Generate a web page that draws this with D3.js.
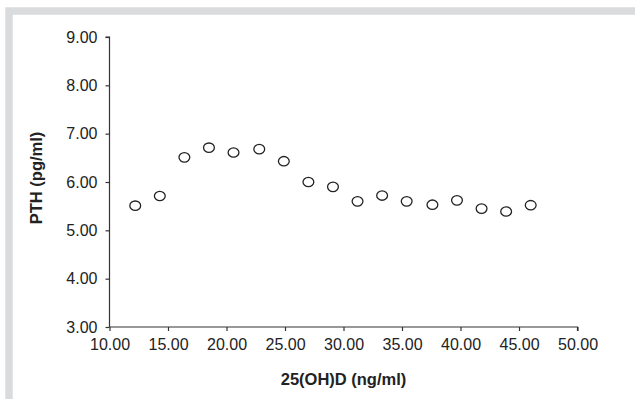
<!DOCTYPE html>
<html lang="en">
 <head>
 <meta charset="UTF-8">
        <title>PTH vs 25(OH)D</title>
        <script type="text/javascript" src="https://unpkg.com/d3@7/dist/d3.min.js"></script>
        <style>
          body { margin: 0; background: #fff; }
          text { font-family: "Liberation Sans", Arial, sans-serif; fill: #222; }
        </style>
 </head>

 <body>
        <script type="text/javascript">

          // values
          var vitD = [12.2, 14.3, 16.4, 18.5, 20.6, 22.8, 24.9, 27.0, 29.1, 31.2, 33.3, 35.4, 37.6, 39.7, 41.8, 43.9, 46.0];
          var pth  = [5.51, 5.71, 6.51, 6.71, 6.61, 6.68, 6.43, 6.00, 5.90, 5.60, 5.72, 5.60, 5.53, 5.62, 5.45, 5.39, 5.52];
          var xTicks = [10, 15, 20, 25, 30, 35, 40, 45, 50];
          var yTicks = [3, 4, 5, 6, 7, 8, 9];
          var xTitle = "25(OH)D (ng/ml)";
          var yTitle = "PTH (pg/ml)";

          var W = 635, H = 399;
          var svg = d3.select("body").append("svg")
                      .attr("width", W)
                      .attr("height", H);

          // grey frame round the plot
          svg.append("rect")
             .attr("x", 9).attr("y", 11)
             .attr("width", W).attr("height", H)
             .attr("fill", "none")
             .attr("stroke", "#dadbdd")
             .attr("stroke-width", 7.5);

          var x = d3.scaleLinear().domain([10, 50]).range([109.5, 577.5]);
          var y = d3.scaleLinear().domain([3, 9]).range([327, 37]);

          var g = svg.append("g");

          var xAxis = g.append("g")
             .attr("transform", "translate(0," + y(3) + ")")
             .call(d3.axisBottom(x).tickValues(xTicks).tickSize(4).tickPadding(8)
                   .tickFormat(d3.format(".2f")));

          var yAxis = g.append("g")
             .attr("transform", "translate(" + x(10) + ",0)")
             .call(d3.axisLeft(y).tickValues(yTicks).tickSize(4).tickPadding(8)
                   .tickFormat(d3.format(".2f")));

          [xAxis, yAxis].forEach(function(a) {
            a.attr("font-size", null).attr("font-family", null);
            a.select(".domain").attr("stroke", "#333").attr("stroke-width", 1.2);
            a.selectAll(".tick line").attr("stroke", "#333").attr("stroke-width", 1.2);
            a.selectAll(".tick text").style("font-size", "16px").attr("fill", "#222");
          });
          xAxis.select(".domain").attr("d", "M" + x(10) + ",0H" + x(50) + "V4");
          yAxis.select(".domain").attr("d", "M-4," + y(9) + "H0V" + y(3));

          g.selectAll("ellipse.pt")
           .data(d3.zip(vitD, pth))
           .enter()
           .append("ellipse")
           .attr("class", "pt")
           .attr("cx", (d) => x(d[0]))
           .attr("cy", (d) => y(d[1]))
           .attr("rx", 5.4)
           .attr("ry", 4.7)
           .attr("fill", "#fff")
           .attr("stroke", "#222")
           .attr("stroke-width", 1.3);

          svg.append("text")
             .attr("x", (x(10) + x(50)) / 2)
             .attr("y", 385)
             .attr("text-anchor", "middle")
             .style("font-size", "16.5px")
             .style("font-weight", "bold")
             .text(xTitle);

          svg.append("text")
             .attr("transform", "translate(42,178) rotate(-90)")
             .attr("text-anchor", "middle")
             .style("font-size", "16.5px")
             .style("font-weight", "bold")
             .text(yTitle);

        </script>
    </body>
</html>
